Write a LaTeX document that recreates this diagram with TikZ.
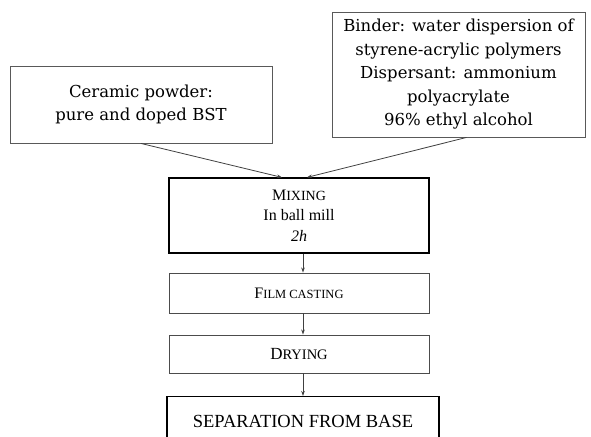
\documentclass[tikz,border=0pt]{standalone}
\usepackage{fontspec}
\setmainfont{Liberation Serif}
\newfontfamily\inputfont{DejaVu Serif}
\usepackage{tikz}
\usetikzlibrary{arrows.meta, positioning}

\begin{document}
\begin{tikzpicture}[x=1pt, y=-1pt,
    inbox/.style={draw=black!65, line width=0.9pt, align=center,
        font=\inputfont\fontsize{16.5}{23.5}\selectfont, inner sep=0pt},
    stepbox/.style={draw=black!70, line width=0.9pt, align=center,
        minimum width=260pt, inner sep=0pt},
    flow/.style={-{Stealth[length=5pt,width=3.5pt]}, line width=0.8pt, black!75}]

\useasboundingbox (0,0) rectangle (591,436);

\node[inbox, minimum width=262pt, minimum height=77pt] at (141,104.5) (cer)
    {Ceramic powder:\\pure and doped BST};

\node[inbox, minimum width=253pt, minimum height=125pt] at (458.5,74.5) (bind)
    {Binder: water dispersion of\\styrene-acrylic polymers\\Dispersant: ammonium\\polyacrylate\\96\% ethyl alcohol};

\node[stepbox, draw=black, line width=1.2pt,
    minimum height=75pt, font=\fontsize{16}{20.5}\selectfont] at (299,215.5) (mix)
    {M{\fontsize{14}{20.5}\selectfont IXING}\\In ball mill\\\textit{2h}};

\node[stepbox, minimum height=40pt, font=\fontsize{16}{20}\selectfont] at (299,293) (film)
    {F{\fontsize{12.5}{20}\selectfont ILM CASTING}};

\node[stepbox, minimum height=38pt, font=\fontsize{17}{20}\selectfont] at (299,354) (dry)
    {D{\fontsize{14.5}{20}\selectfont RYING}};

\node[draw=black, line width=1.2pt, minimum width=272pt, anchor=north,
    text height=12pt, text depth=50pt, inner ysep=19pt, inner xsep=0pt,
    font=\fontsize{18.5}{20}\selectfont] at (303,396) (sep)
    {SEPARATION FROM BASE};

\draw[flow] (cer.south) -- ([xshift=-17pt]mix.north);
\draw[flow] ([xshift=8pt]bind.south) -- ([xshift=8pt]mix.north);
\draw[flow] ([xshift=4pt]mix.south) -- ([xshift=4pt]film.north);
\draw[flow] ([xshift=4pt]film.south) -- ([xshift=4pt]dry.north);
\draw[flow] ([xshift=4pt]dry.south) -- ([xshift=0pt]sep.north);

\end{tikzpicture}
\end{document}
